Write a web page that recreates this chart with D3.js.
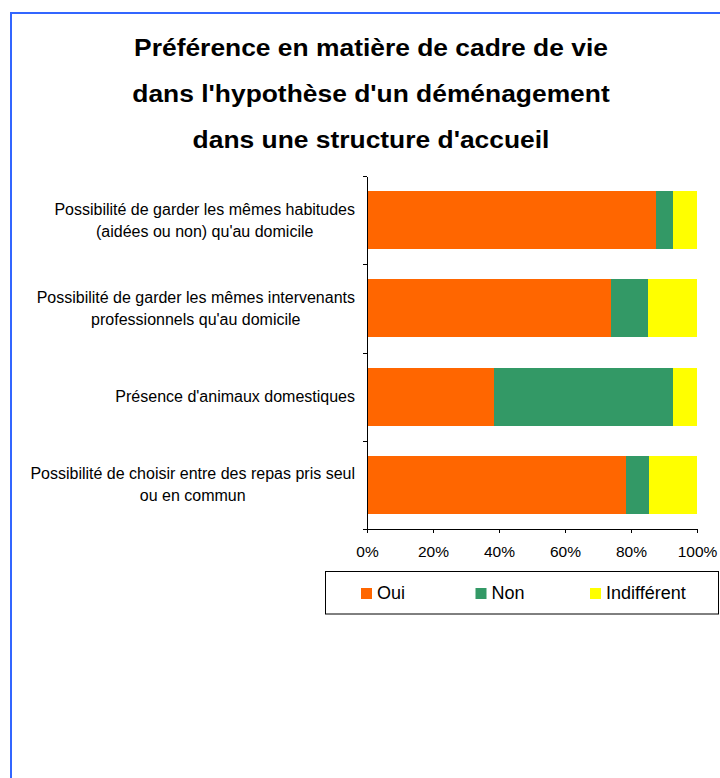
<!DOCTYPE html>
<html>
<head>
<meta charset="utf-8">
<script src="https://cdn.jsdelivr.net/npm/d3@7"></script>
<style>
  html, body { margin: 0; padding: 0; background: #fff; }
  svg { display: block; font-family: "Liberation Sans", Arial, sans-serif; }
</style>
</head>
<body>
<svg id="chart" width="720" height="778"></svg>
<script>
// ---- data ----
const titleLines = [
  "Préférence en matière de cadre de vie",
  "dans l'hypothèse d'un déménagement",
  "dans une structure d'accueil"
];
const categories = [
  ["Possibilité de garder les mêmes habitudes", "(aidées ou non) qu'au domicile"],
  ["Possibilité de garder les mêmes intervenants", "professionnels qu'au domicile"],
  ["Présence d'animaux domestiques"],
  ["Possibilité de choisir entre des repas pris seul", "ou en commun"]
];
const seriesNames = ["Oui", "Non", "Indifférent"];
const oui = [87.5, 74.0, 38.5, 78.5];
const non = [5.2, 11.2, 54.2, 7.0];
const indifferent = [7.3, 14.8, 7.3, 14.5];
const xTickValues = [0, 20, 40, 60, 80, 100];
const colors = ["#FF6600", "#339966", "#FFFF00"];

// ---- layout ----
const svg = d3.select("#chart");
const plot = { left: 367, right: 697, top: 176, bottom: 529 };

// blue frame (top and left edges visible)
svg.append("line").attr("x1", 10).attr("x2", 720).attr("y1", 13).attr("y2", 13)
  .attr("stroke", "#3366FF").attr("stroke-width", 2);
svg.append("line").attr("x1", 11).attr("x2", 11).attr("y1", 12).attr("y2", 778)
  .attr("stroke", "#3366FF").attr("stroke-width", 2);

// title (slightly widened, as in the original)
const titleCx = 371;
svg.append("g")
  .attr("transform", `translate(${titleCx},0) scale(1.1,1)`)
  .selectAll("text").data(titleLines).join("text")
  .attr("x", 0).attr("y", (d, i) => 56 + i * 46)
  .attr("text-anchor", "middle")
  .attr("font-size", 24).attr("font-weight", "bold").attr("fill", "#000")
  .text(d => d);

// scales
const x = d3.scaleLinear().domain([0, 100]).range([plot.left, plot.right]);
const y = d3.scaleBand().domain(d3.range(categories.length))
  .range([plot.top, plot.bottom]).paddingInner(0.34).paddingOuter(0.17);
const yBound = d3.scaleLinear().domain([0, categories.length]).range([plot.top, plot.bottom]);

// stack
const rows = categories.map((c, i) => ({ i, Oui: oui[i], Non: non[i], "Indifférent": indifferent[i] }));
const stack = d3.stack().keys(seriesNames)(rows);

svg.append("g").selectAll("g").data(stack).join("g")
  .attr("fill", (d, k) => colors[k])
  .selectAll("rect").data(d => d).join("rect")
  .attr("x", d => x(d[0]))
  .attr("width", d => x(d[1]) - x(d[0]))
  .attr("y", d => y(d.data.i))
  .attr("height", y.bandwidth())
  .attr("shape-rendering", "crispEdges");

// x axis
const xAxis = svg.append("g").attr("transform", `translate(0,${plot.bottom})`)
  .call(d3.axisBottom(x).tickValues(xTickValues).tickFormat(d => d + "%").tickSize(4).tickSizeOuter(0));
xAxis.select(".domain").attr("stroke", "#000").attr("shape-rendering", "crispEdges");
xAxis.selectAll(".tick line").attr("stroke", "#000").attr("shape-rendering", "crispEdges");
xAxis.selectAll(".tick text").attr("font-size", 15.5).attr("font-family", "Liberation Sans, Arial, sans-serif")
  .attr("fill", "#000").attr("dy", null).attr("y", 28);

// y axis (ticks at category boundaries)
const yAxis = svg.append("g").attr("transform", `translate(${plot.left},0)`)
  .call(d3.axisLeft(yBound).tickValues(d3.range(categories.length + 1)).tickFormat("").tickSize(4).tickSizeOuter(0));
yAxis.select(".domain").attr("stroke", "#000").attr("shape-rendering", "crispEdges");
yAxis.selectAll(".tick line").attr("stroke", "#000").attr("shape-rendering", "crispEdges");

// category labels: block right-aligned, lines centered in block
const labelRight = 355;
const lineH = 22;
const catG = svg.append("g").attr("font-size", 16).attr("fill", "#000");
categories.forEach((lines, i) => {
  const g = catG.append("g");
  const texts = g.selectAll("text").data(lines).join("text")
    .attr("text-anchor", "middle")
    .attr("y", (d, j) => y(i) + y.bandwidth() / 2 + 5.5 + (j - (lines.length - 1) / 2) * lineH)
    .text(d => d);
  let maxW = 0;
  texts.each(function () { maxW = Math.max(maxW, this.getComputedTextLength()); });
  texts.attr("x", labelRight - maxW / 2);
});

// legend
const legend = svg.append("g");
legend.append("rect").attr("x", 325.5).attr("y", 571.5).attr("width", 393).attr("height", 42.5)
  .attr("fill", "#fff").attr("stroke", "#000").attr("stroke-width", 1);
const items = legend.selectAll("g.item").data(seriesNames).join("g")
  .attr("class", "item")
  .attr("transform", (d, k) => `translate(${361 + k * 114.5},0)`);
items.append("rect").attr("x", 0).attr("y", 588).attr("width", 11).attr("height", 11)
  .attr("fill", (d, k) => colors[k]);
items.append("text").attr("x", 16).attr("y", 598.5).attr("font-size", 18).attr("fill", "#000")
  .text(d => d);
</script>
</body>
</html>
